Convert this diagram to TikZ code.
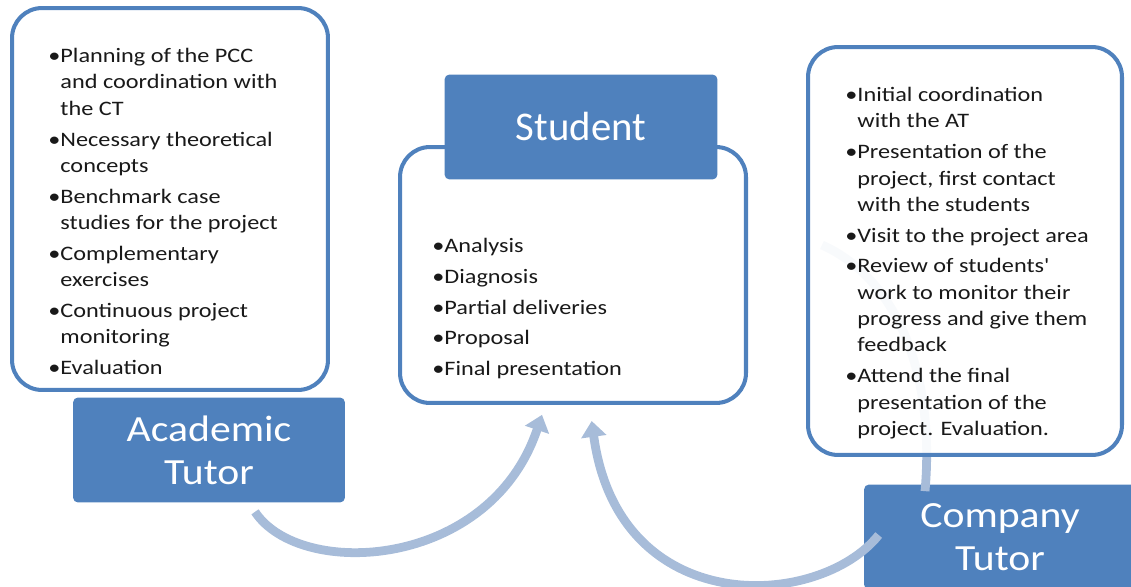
\documentclass[tikz,border=0pt]{standalone}
\usepackage{fontspec}
\setmainfont{Carlito}
\newfontfamily\listfont{Carlito}[FakeStretch=1.18]
\newfontfamily\rolefont{Carlito}[FakeStretch=1.13]
\usetikzlibrary{arrows.meta,calc}
\definecolor{tutorblue}{HTML}{4F81BD}
\definecolor{flowblue}{HTML}{A7BCD9}
\newcommand{\bl}{\textbullet}
\newcommand{\hg}{\phantom{\textbullet}}
\begin{document}
\begin{tikzpicture}[x=0.02cm, y=-0.02cm,
    panel/.style={draw=tutorblue, line width=2.3pt, rounded corners=0.6cm, fill=white, fill opacity=0.93},
    role/.style={fill=tutorblue, rounded corners=0.1cm, minimum width=5.44cm, minimum height=2.1cm,
        text=white, align=center, font=\rolefont\fontsize{21}{24.5}\selectfont},
    items/.style={align=left, inner sep=0pt, anchor=north west, text=black!90,
        font=\listfont\fontsize{11.7}{15}\selectfont},
    flow/.style={draw=flowblue, line width=5pt, -{Triangle[width=14pt,length=9pt]}}
  ]
  \useasboundingbox (0,0) rectangle (1131,587);
  \clip (0,0) rectangle (1131,587);

  % Role boxes
  \node[role] (at) at (209,450) {Academic\\Tutor};
  \node[role] (ct) at (1000,537) {Company\\Tutor};
  \coordinate (arcend) at (822,245);

  % Arrows towards the student
  \draw[flow] ($(at.south)+(46,9)$) .. controls +(45,68) and +(-52,155) .. ($(at.south)+(333,-88)$) coordinate (t1);
  \draw[flow] ($(ct.west)+(15,-2)$) .. controls +(-60,75) and +(27,199) .. ($(ct.west)+(-272,-116)$) coordinate (t2);
  \draw[flow, -] ($(ct.north)+(-75,7)$) .. controls +(10,-112) and +(78,35) .. (arcend);

  % Panels
  \node[panel, minimum width=6.32cm, minimum height=7.64cm] (ap) at (170,199) {};
  \node[panel, minimum width=6.92cm, minimum height=5.12cm] (sp) at (573,275) {};
  \node[panel, minimum width=6.28cm, minimum height=8.16cm] (cp) at (965,251) {};
  \node[role, minimum width=5.46cm, font=\normalfont\fontsize{23.2}{27}\selectfont] (st) at (581,127) {Student};

  % Task lists
  \node[items] (al) at (48,48) {\bl Planning of the PCC\\
    \hg and coordination with\\
    \hg the CT\\[2.5pt]
    \bl Necessary theoretical\\
    \hg concepts\\[2.5pt]
    \bl Benchmark case\\
    \hg studies for the project\\[2.5pt]
    \bl Complementary\\
    \hg exercises\\[2.5pt]
    \bl Continuous project\\
    \hg monitoring\\[2.5pt]
    \bl Evaluation};
  \node[items] (sl) at (432,238) {\bl Analysis\\[2.5pt]
    \bl Diagnosis\\[2.5pt]
    \bl Partial deliveries\\[2.5pt]
    \bl Proposal\\[2.5pt]
    \bl Final presentation};
  \node[items] (cl) at (845,87) {\bl Initial coordination\\
    \hg with the AT\\[2.5pt]
    \bl Presentation of the\\
    \hg project, first contact\\
    \hg with the students\\[2.5pt]
    \bl Visit to the project area\\[2.5pt]
    \bl Review of students\textquotesingle\\
    \hg work to monitor their\\
    \hg progress and give them\\
    \hg feedback\\[2.5pt]
    \bl Attend the final\\
    \hg presentation of the\\
    \hg project. Evaluation.};
\end{tikzpicture}
\end{document}
